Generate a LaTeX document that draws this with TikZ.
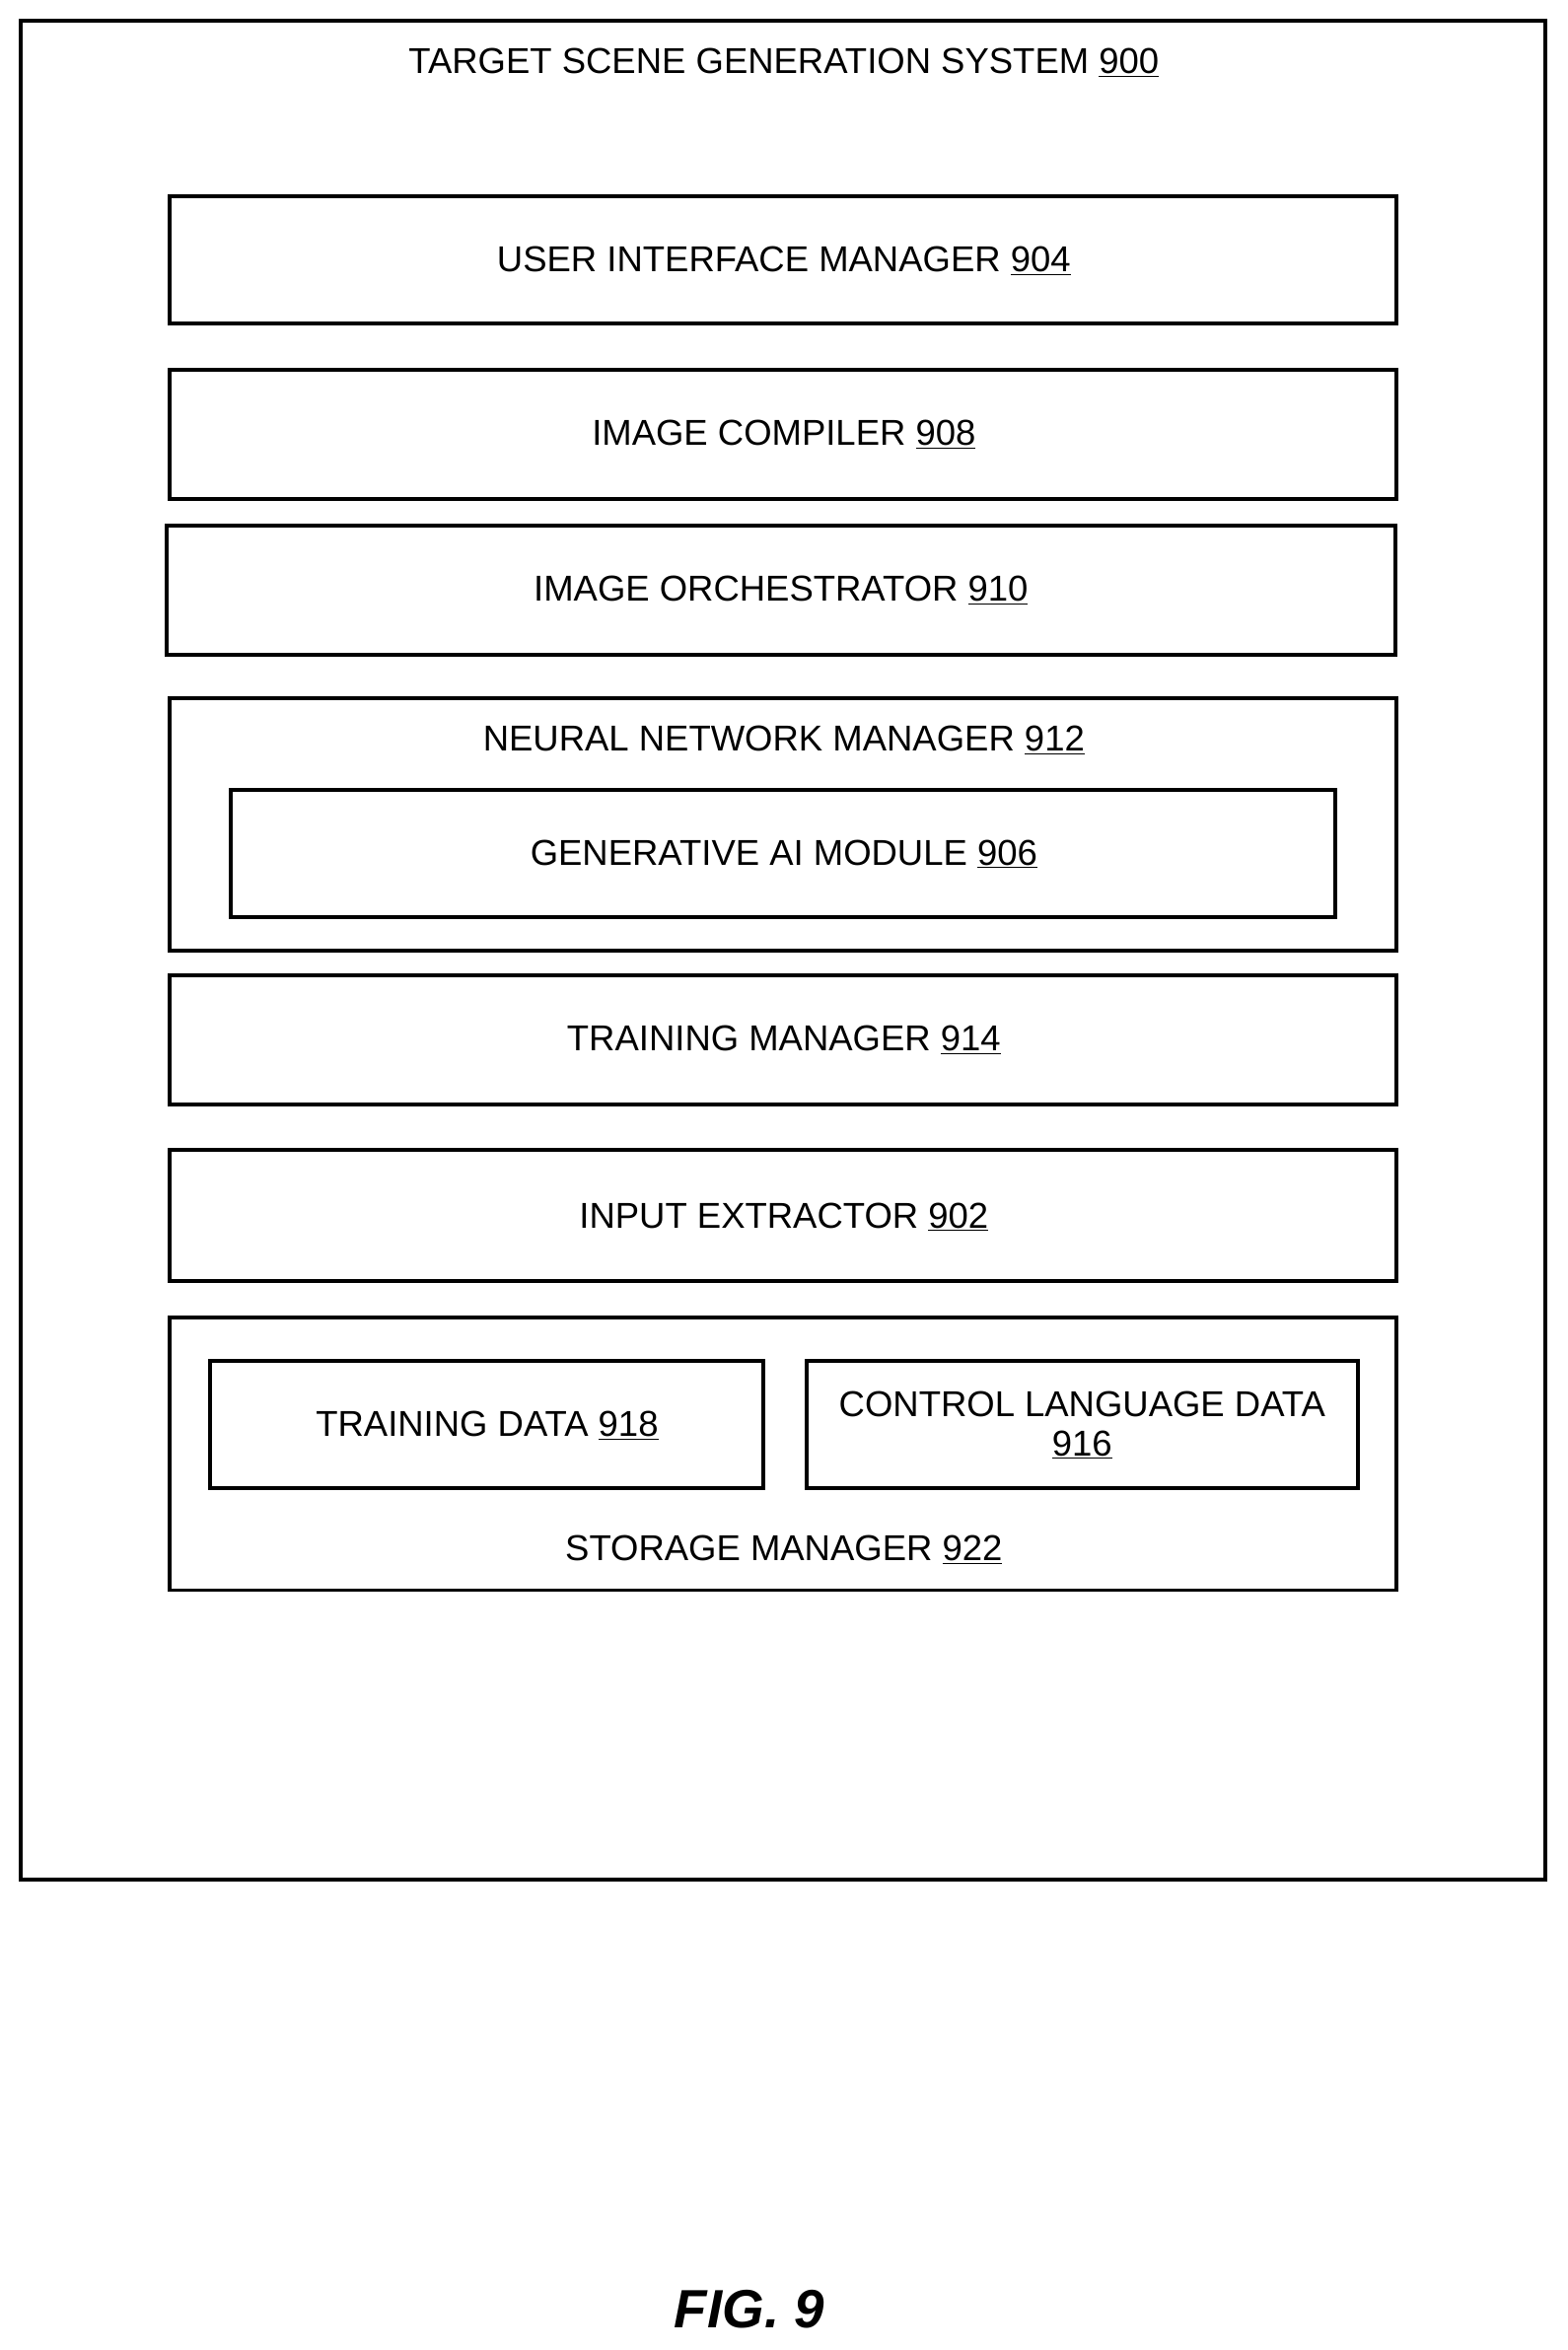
\documentclass[tikz,border=0pt]{standalone}
\usepackage{fontspec}
\setmainfont{Liberation Sans}
\begin{document}
\begin{tikzpicture}[x=1pt,y=-1pt,
  box/.style={draw=black,line width=2.6pt},
  lbl/.style={font=\fontsize{24}{29}\selectfont,align=center,inner sep=0pt,anchor=center},
  n/.style={}]
\useasboundingbox (0,0) rectangle (1046,1568);
\fill[white] (0,0) rectangle (1046,1568);
\draw[box] (14,14) rectangle (1031,1254);
\node[lbl] (t) at (523,42) {TARGET SCENE GENERATION SYSTEM \underline{900}};
\draw[box] (113,131) rectangle (932,216);
\node[lbl] (uim) at (523,174) {USER INTERFACE MANAGER \underline{904}};
\draw[box] (113,247) rectangle (932,333);
\node[lbl] (ic) at (523,290) {IMAGE COMPILER \underline{908}};
\draw[box] (111,351) rectangle (931,437);
\node[lbl] (io) at (521,394) {IMAGE ORCHESTRATOR \underline{910}};
\draw[box] (113,466) rectangle (932,634);
\node[lbl] (nnm) at (523,494) {NEURAL NETWORK MANAGER \underline{912}};
\draw[box] (154,527) rectangle (891,612);
\node[lbl] (gai) at (523,570) {GENERATIVE AI MODULE \underline{906}};
\draw[box] (113,651) rectangle (932,737);
\node[lbl] (tm) at (523,694) {TRAINING MANAGER \underline{914}};
\draw[box] (113,767) rectangle (932,855);
\node[lbl] (ie) at (523,812) {INPUT EXTRACTOR \underline{902}};
\draw[box] (113,879) rectangle (932,1061);
\node[lbl] (sm) at (523,1034) {STORAGE MANAGER \underline{922}};
\draw[box] (140,908) rectangle (509,993);
\node[lbl] (td) at (325,951) {TRAINING DATA \underline{918}};
\draw[box] (538,908) rectangle (906,993);
\node[lbl] (cld) at (722,951) {CONTROL LANGUAGE DATA\\[-3pt]\underline{916}};
\node[lbl,font=\fontsize{36}{40}\selectfont\bfseries\itshape] (fig) at (500,1541) {FIG. 9};
\end{tikzpicture}
\end{document}
